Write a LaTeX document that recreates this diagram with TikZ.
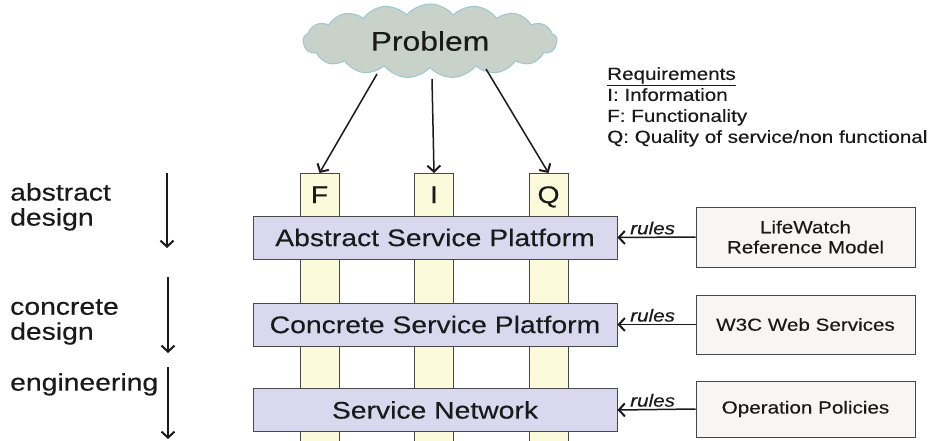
\documentclass[tikz,border=0pt]{standalone}
\usepackage{fontspec}
\setmainfont{Liberation Sans}[FakeStretch=1.18,FakeBold=0.3]
\usetikzlibrary{shapes.symbols,arrows.meta}
\definecolor{cloudfill}{HTML}{C9D2C9}
\definecolor{cloudline}{HTML}{9CC6D8}
\definecolor{colfill}{HTML}{FBFADA}
\definecolor{platfill}{HTML}{D9D8EE}
\definecolor{srcfill}{HTML}{F7F6F4}
\definecolor{edge}{HTML}{484848}
\definecolor{ink}{HTML}{1A1A1A}
\tikzset{
  arr/.style={draw=ink, line width=1.5pt, -{Straight Barb[length=6pt,width=13pt,line width=2pt]}},
  colbox/.style={draw=edge, fill=colfill, line width=1pt, minimum width=39pt, inner sep=0pt, anchor=north},
  collabel/.style={font=\fontsize{24}{28}\selectfont, text=ink, inner sep=0pt, anchor=base},
  platbox/.style={draw=edge, fill=platfill, line width=1pt, minimum width=364pt, minimum height=43pt, inner sep=0pt, font=\fontsize{24}{28}\selectfont, text=ink},
  srcbox/.style={draw=edge, fill=srcfill, line width=1pt, minimum width=219pt, inner sep=0pt, align=center, font=\fontsize{17.5}{20}\selectfont, text=ink},
  rulelabel/.style={font=\fontsize{17.5}{20}\selectfont\itshape, text=ink, inner sep=2pt},
  sidelabel/.style={font=\fontsize{24}{25}\selectfont, text=ink, inner sep=0pt, align=left, anchor=north west},
}
\begin{document}
\begin{tikzpicture}[x=1pt,y=-1pt]
\useasboundingbox (0,0) rectangle (934,441);
\fill[white] (0,0) rectangle (934,441);

% cloud
\node[cloud, cloud puffs=17, cloud puff arc=100, cloud ignores aspect,
      minimum width=254pt, minimum height=74pt, inner sep=0pt,
      draw=cloudline, fill=cloudfill, line width=1pt,
      font=\fontsize{27}{30}\selectfont, text=ink] (prob) at (430,41) {Problem};

% columns
\node[colbox, minimum height=275pt] (cF) at (319.5,173) {};
\node[colbox, minimum height=275pt] (cI) at (434,173) {};
\node[colbox, minimum height=275pt] (cQ) at (548.5,173) {};
\node[collabel] (F) at (319.5,203) {F};
\node[collabel] (I) at (434,203) {I};
\node[collabel] (Q) at (548.5,203) {Q};

% arrows from the cloud
\coordinate (p1) at (377,74);
\coordinate (p2) at (432,79);
\coordinate (p3) at (486,69);
\draw[arr] (p1) -- (cF.north);
\draw[arr] (p2) -- (cI.north);
\draw[arr] (p3) -- (cQ.north);

% platforms
\node[platbox] (asp) at (435,237.5) {Abstract Service Platform};
\node[platbox] (csp) at (435,324.5) {Concrete Service Platform};
\node[platbox] (sn) at (435,410) {Service Network};

% sources
\node[srcbox, minimum height=60pt] (lw) at (805.5,237) {LifeWatch\\Reference Model};
\node[srcbox, minimum height=59pt] (w3c) at (805.5,324.5) {W3C Web Services};
\node[srcbox, minimum height=56pt] (op) at (805.5,409) {Operation Policies};

\draw[arr] (lw.west) -- node[pos=0.55, above, rulelabel] {rules} (asp.east);
\draw[arr] (w3c.west) -- node[pos=0.55, above, rulelabel] {rules} (csp.east);
\draw[arr] (op.west) -- node[pos=0.55, above, rulelabel] {rules} (sn.east);

% requirements legend
\node[anchor=north west, inner sep=0pt, align=left, font=\fontsize{17.5}{21}\selectfont, text=ink] (req) at (607,67)
  {\underline{Requirements}\\I: Information\\F: Functionality\\Q: Quality of service/non functional};

% left side labels
\node[sidelabel] (ad) at (10,183) {abstract\\design};
\node[sidelabel] (cd) at (10,299) {concrete\\design};
\node[sidelabel] (en) at (10,373) {engineering};

\coordinate (a1s) at (167,173);
\coordinate (a1e) at (167,248);
\coordinate (a2s) at (168,277);
\coordinate (a2e) at (168,353);
\coordinate (a3s) at (168,367);
\coordinate (a3e) at (168,439);
\draw[arr] (a1s) -- (a1e);
\draw[arr] (a2s) -- (a2e);
\draw[arr] (a3s) -- (a3e);
\end{tikzpicture}
\end{document}
